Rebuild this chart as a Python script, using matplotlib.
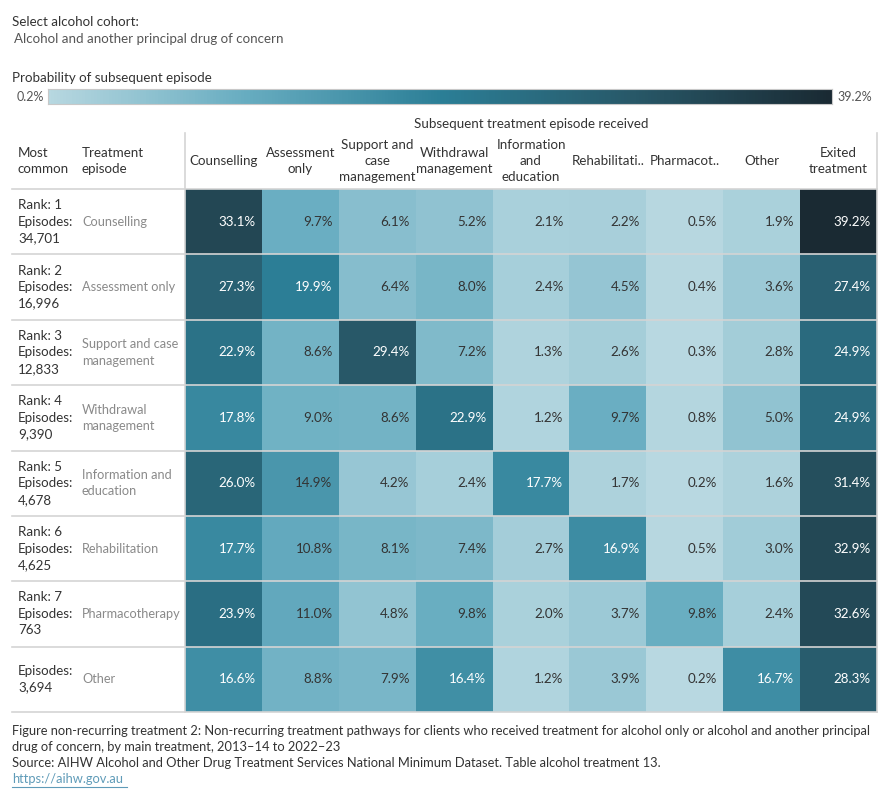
import numpy as np
import matplotlib
matplotlib.use("Agg")
import matplotlib.pyplot as plt
from matplotlib.colors import LinearSegmentedColormap, Normalize
from matplotlib.lines import Line2D

plt.rcParams['font.family'] = ['Lato', 'DejaVu Sans']

# ---- data ----
cohort = "Alcohol and another principal drug of concern"
row_names = ["Counselling", "Assessment only", "Support and case\nmanagement",
             "Withdrawal\nmanagement", "Information and\neducation",
             "Rehabilitation", "Pharmacotherapy", "Other"]
row_info = ["Rank: 1\nEpisodes:\n34,701", "Rank: 2\nEpisodes:\n16,996",
            "Rank: 3\nEpisodes:\n12,833", "Rank: 4\nEpisodes:\n9,390",
            "Rank: 5\nEpisodes:\n4,678", "Rank: 6\nEpisodes:\n4,625",
            "Rank: 7\nEpisodes:\n763", "Episodes:\n3,694"]
col_names = ["Counselling", "Assessment\nonly", "Support and\ncase\nmanagement",
             "Withdrawal\nmanagement", "Information\nand\neducation",
             "Rehabilitati..", "Pharmacot..", "Other", "Exited\ntreatment"]
values = np.array([
    [33.1, 9.7, 6.1, 5.2, 2.1, 2.2, 0.5, 1.9, 39.2],
    [27.3, 19.9, 6.4, 8.0, 2.4, 4.5, 0.4, 3.6, 27.4],
    [22.9, 8.6, 29.4, 7.2, 1.3, 2.6, 0.3, 2.8, 24.9],
    [17.8, 9.0, 8.6, 22.9, 1.2, 9.7, 0.8, 5.0, 24.9],
    [26.0, 14.9, 4.2, 2.4, 17.7, 1.7, 0.2, 1.6, 31.4],
    [17.7, 10.8, 8.1, 7.4, 2.7, 16.9, 0.5, 3.0, 32.9],
    [23.9, 11.0, 4.8, 9.8, 2.0, 3.7, 9.8, 2.4, 32.6],
    [16.6, 8.8, 7.9, 16.4, 1.2, 3.9, 0.2, 16.7, 28.3],
])
vmin, vmax = 0.2, 39.2
footer = [
    "Figure non-recurring treatment 2: Non-recurring treatment pathways for clients who received "
    "treatment for alcohol only or alcohol and another principal",
    "drug of concern, by main treatment, 2013\u201314 to 2022\u201323",
    "Source: AIHW Alcohol and Other Drug Treatment Services National Minimum Dataset. "
    "Table alcohol treatment 13.",
]

W, H = 890, 800
fig = plt.figure(figsize=(W / 100, H / 100), dpi=100)

def fx(x):
    return x / W

def fy(y):
    return 1 - y / H

cmap = LinearSegmentedColormap.from_list(
    "teal", [(0, "#b8d8e1"), (0.25, "#68adc1"), (0.5, "#2c7f97"),
             (0.75, "#285868"), (1, "#1a2a33")])
norm = Normalize(vmin, vmax)

dark = "#333333"
grey = "#8a8a8a"
line_c = "#d4d4d4"
fs = 9.6

# ---- top texts ----
fig.text(fx(12), fy(22), "Select alcohol cohort:", fontsize=fs, color=dark, va="center")
fig.text(fx(14), fy(39), cohort, fontsize=fs, color="#555555", va="center")
fig.text(fx(12), fy(78), "Probability of subsequent episode", fontsize=fs, color=dark, va="center")

# ---- colour legend ----
cax = fig.add_axes([fx(48), fy(104), fx(832) - fx(48), (104 - 89) / H])
grad = np.linspace(vmin, vmax, 256).reshape(1, -1)
cax.imshow(grad, aspect="auto", cmap=cmap, norm=norm)
cax.set_xticks([])
cax.set_yticks([])
for s in cax.spines.values():
    s.set_color("#c8c8c8")
fig.text(fx(44), fy(97), "0.2%", fontsize=9, color="#555555", ha="right", va="center")
fig.text(fx(837), fy(97), "39.2%", fontsize=9, color="#555555", ha="left", va="center")

# ---- heatmap ----
x0, x1 = 185, 877
y_head, y0, y1 = 133, 189, 712
nrows, ncols = values.shape
ax = fig.add_axes([fx(x0), fy(y1), fx(x1) - fx(x0), (y1 - y0) / H])
ax.pcolormesh(values, cmap=cmap, norm=norm)
ax.set_xlim(0, ncols)
ax.set_ylim(nrows, 0)
ax.axis("off")
for i in range(nrows):
    for j in range(ncols):
        v = values[i, j]
        ax.text(j + 0.92, i + 0.5, f"{v:.1f}%", ha="right", va="center",
                fontsize=fs, color="white" if v > 15.5 else dark)

row_h = (y1 - y0) / nrows
col_w = (x1 - x0) / ncols

# horizontal separators
for k in range(nrows + 1):
    yy = y0 + k * row_h
    fig.add_artist(Line2D([fx(12), fx(x1)], [fy(yy), fy(yy)], color=line_c, lw=1.2))
# vertical separators
for xx in (x0, x1):
    fig.add_artist(Line2D([fx(xx), fx(xx)], [fy(y_head), fy(y1)], color=line_c, lw=1.2))

# column headers
fig.text(fx((x0 + x1) / 2), fy(124), "Subsequent treatment episode received",
         fontsize=fs, color=dark, ha="center", va="center")
for j, name in enumerate(col_names):
    fig.text(fx(x0 + (j + 0.5) * col_w), fy(161), name, fontsize=fs, color=dark,
             ha="center", va="center", linespacing=1.4)
fig.text(fx(18), fy(161), "Most\ncommon", fontsize=fs, color=dark, va="center", linespacing=1.4)
fig.text(fx(82), fy(161), "Treatment\nepisode", fontsize=fs, color=dark, va="center", linespacing=1.4)

# row labels
for i in range(nrows):
    yc = y0 + (i + 0.5) * row_h
    fig.text(fx(18), fy(yc), row_info[i], fontsize=fs, color=dark, va="center", linespacing=1.45)
    fig.text(fx(82), fy(yc), row_names[i], fontsize=9.2, color=grey, va="center", linespacing=1.45)

# ---- footer ----
for k, line in enumerate(footer):
    fig.text(fx(12), fy(731 + 16 * k), line, fontsize=9.3, color=dark, va="center")
fig.text(fx(12), fy(779), "https://aihw.gov.au", fontsize=9.3, color="#5f9bb8", va="center")
fig.add_artist(Line2D([fx(12), fx(127)], [fy(787), fy(787)], color="#5f9bb8", lw=0.8))

fig.savefig("out.png", dpi=100)
